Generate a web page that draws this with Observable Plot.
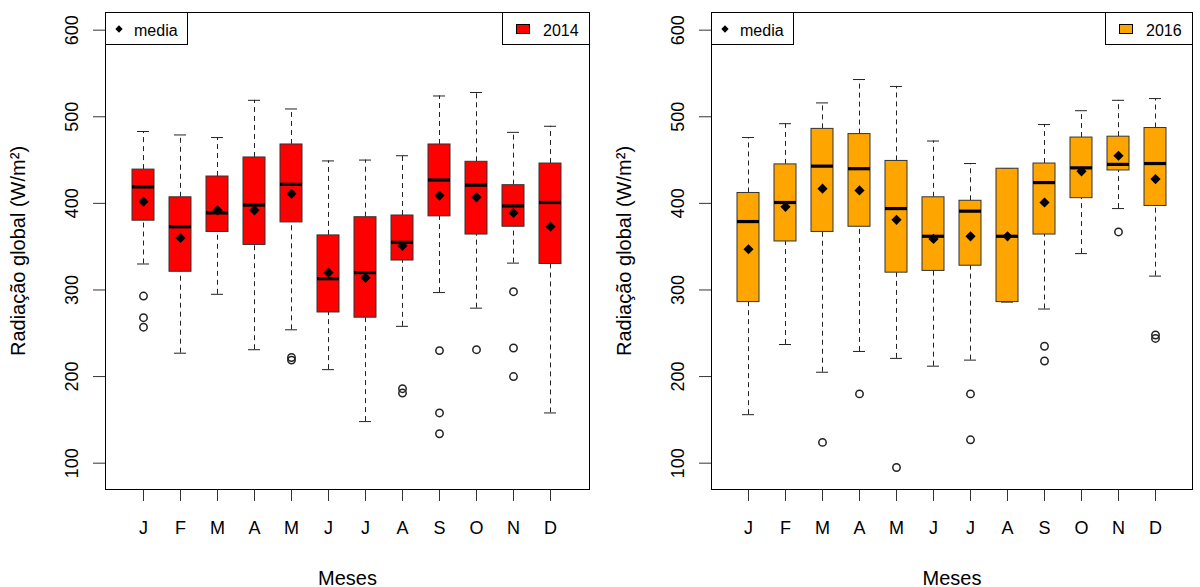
<!DOCTYPE html>
<html><head><meta charset="utf-8">
<script src="https://cdn.jsdelivr.net/npm/d3@7"></script>
<script src="https://cdn.jsdelivr.net/npm/@observablehq/plot@0.6"></script>
<style>
body{margin:0;background:#fff;}
#wrap{position:relative;width:1200px;height:587px;overflow:hidden;}
.panel{position:absolute;top:0;}
</style></head><body><div id="wrap"></div>
<script>
const monthIdx = [1,2,3,4,5,6,7,8,9,10,11,12];
const monthLabels = ["J","F","M","A","M","J","J","A","S","O","N","D"];
const yTicks = [100,200,300,400,500,600];

// 2014
const lo14   = [330,227,295,231,254,208,148,258,297,279,331,158];
const q1_14  = [380,321,367,352,378,274,268,334,385,364,373,330];
const med14  = [419,373,389,398,422,313,320,355,427,421,397,401];
const q3_14  = [439,407,431,453,468,363,384,386,468,448,421,446];
const hi14   = [483,479,476,519,509,449,450,455,524,528,482,489];
const mean14 = [402,360,392,392,411,320,314,351,409,407,389,373];
const out14  = [[293,268,257],[],[],[],[222,219],[],[],[186,181],[230,158,134],[231],[298,233,200],[]];

// 2016
const lo16   = [156,237,205,229,221,212,219,286,278,342,394,316];
const q1_16  = [286,356,367,373,320,322,328,286,364,406,438,397];
const med16  = [379,401,443,440,394,362,391,362,424,441,445,446];
const q3_16  = [412,445,486,480,449,407,403,440,446,476,477,487];
const hi16   = [476,492,516,543,535,472,446,440,491,507,519,521];
const mean16 = [347,396,417,415,381,359,362,362,401,437,455,428];
const out16  = [[],[],[124],[180],[95],[],[180,127],[],[235,218],[],[367],[248,244]];

const FONT = "Liberation Sans, Arial, Helvetica, sans-serif";

function panel(year, color, left, mL, mR, lo, q1, med, q3, hi, mean, outs) {
  const W = 600, H = 587, mT = 12, mB = 98;
  const rows = monthIdx.map((m, i) => ({m, lo: lo[i], q1: q1[i], med: med[i], q3: q3[i], hi: hi[i], mean: mean[i]}));
  const outliers = monthIdx.flatMap((m, i) => outs[i].map(v => ({m, v})));
  const svg = Plot.plot({
    width: W, height: H,
    marginLeft: mL, marginRight: mR, marginTop: mT, marginBottom: mB,
    style: {fontFamily: FONT, fontSize: "18px", color: "black", background: "white"},
    x: {type: "band", domain: monthIdx, paddingInner: 0.4, paddingOuter: 0.68, axis: null},
    y: {domain: [69.6, 620.4], axis: null},
    marks: [
      Plot.ruleX(rows, {x: "m", y1: "q3", y2: "hi", stroke: "#222", strokeDasharray: "5,4"}),
      Plot.ruleX(rows, {x: "m", y1: "lo", y2: "q1", stroke: "#222", strokeDasharray: "5,4"}),
      Plot.tickY(rows, {x: "m", y: "hi", stroke: "#222", insetLeft: 5, insetRight: 5}),
      Plot.tickY(rows, {x: "m", y: "lo", stroke: "#222", insetLeft: 5, insetRight: 5}),
      Plot.barY(rows, {x: "m", y1: "q1", y2: "q3", fill: color, stroke: "#333"}),
      Plot.tickY(rows, {x: "m", y: "med", stroke: "black", strokeWidth: 3.2}),
      Plot.dot(rows, {x: "m", y: "mean", symbol: "diamond2", fill: "black", r: 4.6}),
      Plot.dot(outliers, {x: "m", y: "v", stroke: "#222", fill: "none", r: 3.7}),
      Plot.axisX({domain: monthIdx, tickFormat: d => monthLabels[d - 1], tickSize: 12, tickPadding: 20, fontSize: 18, label: null, stroke: "#333"}),
      Plot.axisY({ticks: yTicks, tickSize: 12, tickFormat: () => "", label: null, stroke: "#333"}),
      Plot.text(yTicks, {y: d => d, text: d => String(d), frameAnchor: "left", dx: -28, rotate: -90, lineAnchor: "bottom", textAnchor: "middle", fontSize: 18, fill: "black"}),
      Plot.text(["Radiação global (W/m²)"], {text: d => d, frameAnchor: "left", dx: -81, rotate: -90, lineAnchor: "bottom", textAnchor: "middle", fontSize: 20, fill: "black"}),
      Plot.text(["Meses"], {text: d => d, frameAnchor: "bottom", dy: 95, lineAnchor: "bottom", textAnchor: "middle", fontSize: 20, fill: "black"}),
      Plot.frame({stroke: "black"})
    ]
  });
  // legends
  const L = mL, R = W - mR;
  const g = d3.select(svg).append("g").attr("font-family", FONT).attr("text-anchor", "start");
  g.append("rect").attr("x", L + 0.5).attr("y", mT + 0.5).attr("width", 82).attr("height", 32)
    .attr("fill", "white").attr("stroke", "black");
  g.append("path").attr("d", d3.symbol(d3.symbolDiamond2, 34)()).attr("transform", `translate(${L + 14},${mT + 17})`).attr("fill", "black");
  g.append("text").attr("x", L + 29).attr("y", mT + 23.5).attr("font-size", 16).attr("fill", "black").attr("text-anchor", "start").text("media");
  g.append("rect").attr("x", R - 87 + 0.5).attr("y", mT + 0.5).attr("width", 87).attr("height", 32)
    .attr("fill", "white").attr("stroke", "black");
  g.append("rect").attr("x", R - 73 + 0.5).attr("y", mT + 12.5).attr("width", 13).attr("height", 9)
    .attr("fill", color).attr("stroke", "black");
  g.append("text").attr("x", R - 46).attr("y", mT + 24).attr("font-size", 16).attr("fill", "black").attr("text-anchor", "start").text(String(year));
  const div = document.createElement("div");
  div.className = "panel";
  div.style.left = left + "px";
  div.appendChild(svg);
  document.getElementById("wrap").appendChild(div);
}

panel(2014, "#FF0000", 0, 105, 11, lo14, q1_14, med14, q3_14, hi14, mean14, out14);
panel(2016, "#FFA500", 600, 111, 8, lo16, q1_16, med16, q3_16, hi16, mean16, out16);
</script></body></html>
